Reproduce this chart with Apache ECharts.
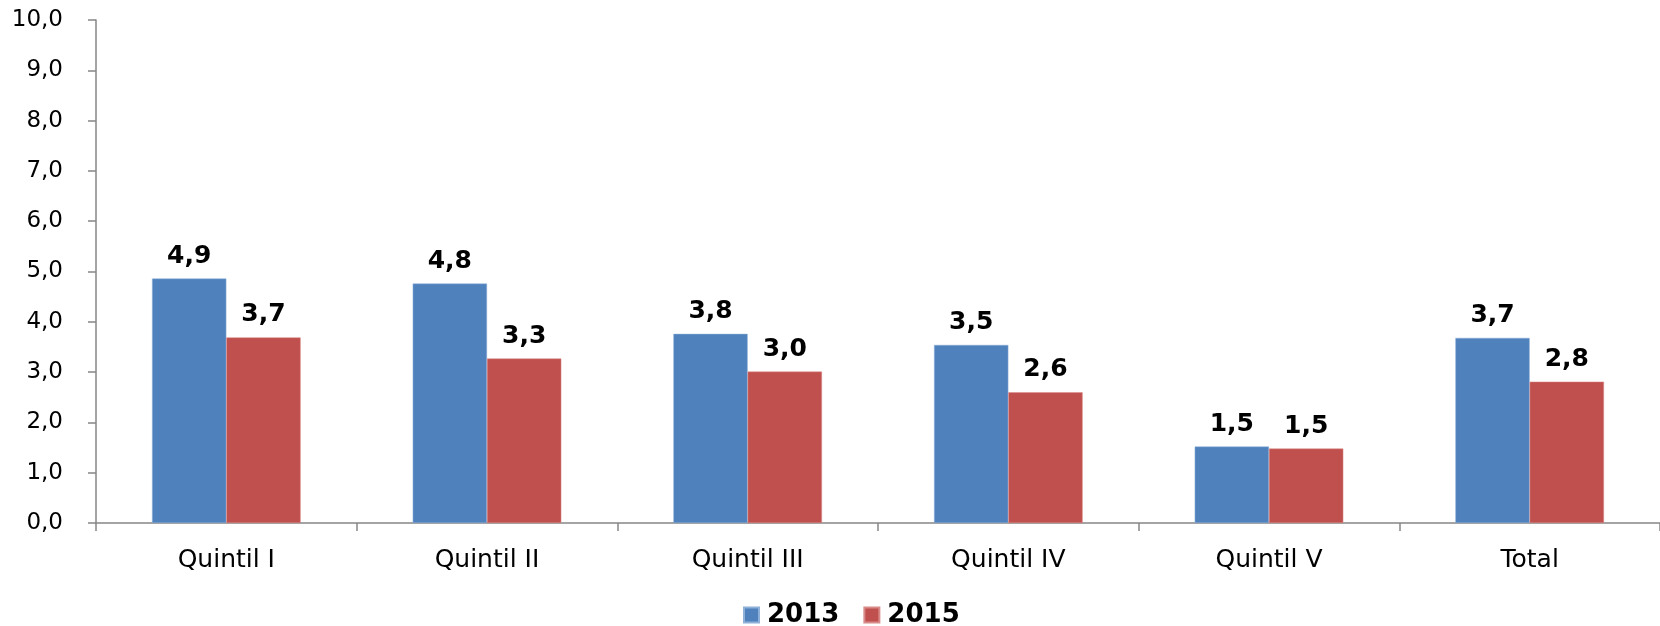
<!DOCTYPE html>
<html>
<head>
<meta charset="utf-8">
<title>Quintil</title>
<script src="https://cdn.jsdelivr.net/npm/echarts@6/dist/echarts.min.js"></script>
<style>
  html, body { margin: 0; padding: 0; background: #fff; }
  #chart { width: 1660px; height: 626px; }
</style>
</head>
<body>
<div id="chart"></div>
<script>
// categorias e valores
var categorias = ['Quintil I', 'Quintil II', 'Quintil III', 'Quintil IV', 'Quintil V', 'Total'];
var valores2013 = [4.86, 4.76, 3.76, 3.54, 1.52, 3.68];
var valores2015 = [3.69, 3.27, 3.01, 2.6, 1.48, 2.81];
var ticksY = [0, 1, 2, 3, 4, 5, 6, 7, 8, 9, 10];

var fonte = 'DejaVu Sans, Verdana, sans-serif';
var virgula = function (v) { return Number(v).toFixed(1).replace('.', ','); };

var chart = echarts.init(document.getElementById('chart'));

var rotulo = {
  show: true,
  position: 'top',
  distance: 10,
  color: '#000',
  fontFamily: fonte,
  fontWeight: 'bold',
  fontSize: 25,
  formatter: function (p) { return virgula(p.value); }
};

chart.setOption({
  animation: false,
  textStyle: { fontFamily: fonte },
  grid: { left: 96, right: 0, top: 20, bottom: 103 },
  legend: {
    top: 602,
    left: 743,
    icon: 'rect',
    itemWidth: 15,
    itemHeight: 15,
    itemGap: 24,
    padding: 0,
    textStyle: { fontFamily: fonte, fontWeight: 'bold', fontSize: 26, color: '#000', padding: [0, 0, 0, 3] },
    data: ['2013', '2015']
  },
  xAxis: {
    type: 'category',
    data: categorias,
    axisLine: { lineStyle: { color: '#868686', width: 1.5 } },
    axisTick: { show: true, length: 8, alignWithLabel: false, lineStyle: { color: '#868686', width: 1.5 } },
    axisLabel: { color: '#000', fontSize: 25, fontFamily: fonte, margin: 25 }
  },
  yAxis: {
    type: 'value',
    min: ticksY[0],
    max: ticksY[ticksY.length - 1],
    interval: 1,
    splitLine: { show: false },
    axisLine: { show: true, lineStyle: { color: '#868686', width: 1.5 } },
    axisTick: { show: true, length: 8, lineStyle: { color: '#868686', width: 1.5 } },
    axisLabel: { color: '#000', fontSize: 23, fontFamily: fonte, margin: 33, formatter: virgula }
  },
  series: [
    {
      name: '2013',
      type: 'bar',
      data: valores2013,
      barGap: '0%',
      barCategoryGap: '43%',
      itemStyle: { color: '#4F81BD', borderColor: '#8fb0d8', borderWidth: 0.5 },
      label: rotulo
    },
    {
      name: '2015',
      type: 'bar',
      data: valores2015,
      itemStyle: { color: '#C0504D', borderColor: '#d88a88', borderWidth: 0.5 },
      label: rotulo
    }
  ]
});
window.onresize = chart.resize;
</script>
</body>
</html>
